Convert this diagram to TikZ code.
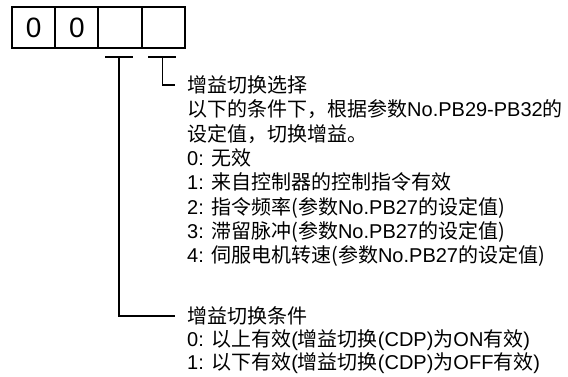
\documentclass[tikz,border=0pt]{standalone}
\usepackage{fontspec}
\setmainfont{Liberation Sans}
\newfontfamily\cjk{Noto Sans CJK SC}
\usetikzlibrary{positioning, calc}
\newcommand{\zh}[1]{{\cjk #1}}
% lines stacked on the baseline of the first one
\newcommand{\stack}[1]{\vtop{\halign{##\hfil\cr#1\crcr}}}

\begin{document}
\begin{tikzpicture}[
  x=1pt, y=-1pt,
  digit/.style={draw, line width=2pt, minimum width=43.25pt,
    minimum height=41pt, inner sep=0pt, outer sep=0pt,
    font=\fontsize{28}{30}\selectfont},
  lead/.style={line width=1.4pt},
  head/.style={anchor=west, inner xsep=12pt, inner ysep=0pt,
    font=\fontsize{20}{24.3}\selectfont},
  body/.style={anchor=base west, inner xsep=12pt, inner ysep=0pt},
  upper/.style={body, font=\fontsize{20}{24.3}\selectfont},
  lower/.style={body, font=\fontsize{20}{23}\selectfont}
]
  \useasboundingbox (0,0) rectangle (568,377);

  % the four digits of the parameter
  \node[digit] (c1) at (33.6,28) {0};
  \node[digit, right=0pt of c1] (c2) {0};
  \node[digit, right=0pt of c2] (c3) {};
  \node[digit, right=0pt of c3] (c4) {};

  % ticks under the two right digits
  \coordinate (t3) at ($(c3.south)+(-1,8.5)$);
  \coordinate (t4) at ($(c4.south)+(-1,8.5)$);
  \draw[lead] ($(t3)+(-14,0)$) -- ($(t3)+(14,0)$);
  \draw[lead] ($(t4)+(-14,0)$) -- ($(t4)+(14,0)$);

  % gain switching selection
  \node[head] (selhead) at (175,85) {\zh{增益切换选择}};
  \node[upper] (selbody) at ($(selhead.base west)+(0,24.3)$) {\stack{%
    \zh{以下的条件下，根据参数}No.PB29-PB32\zh{的}\cr
    \zh{设定值，切换增益。}\cr
    0: \zh{无效}\cr
    1: \zh{来自控制器的控制指令有效}\cr
    2: \zh{指令频率(参数}No.PB27\zh{的设定值)}\cr
    3: \zh{滞留脉冲(参数}No.PB27\zh{的设定值)}\cr
    4: \zh{伺服电机转速(参数}No.PB27\zh{的设定值)}}};

  % gain switching condition
  \node[head] (condhead) at (175,316) {\zh{增益切换条件}};
  \node[lower] (condbody) at ($(condhead.base west)+(0,23)$) {\stack{%
    0: \zh{以上有效}(\zh{增益切换}(CDP)\zh{为}ON\zh{有效})\cr
    1: \zh{以下有效}(\zh{增益切换}(CDP)\zh{为}OFF\zh{有效})}};

  \draw[lead] (t4) |- (selhead.west);
  \draw[lead] (t3) |- (condhead.west);
\end{tikzpicture}
\end{document}
